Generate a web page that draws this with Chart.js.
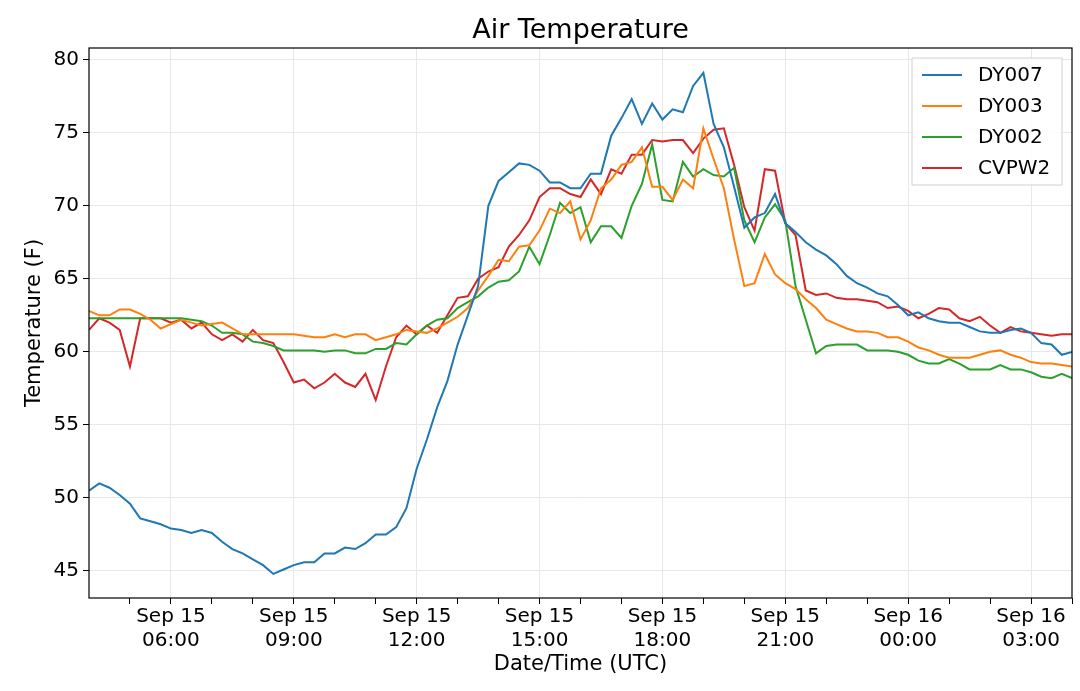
<!DOCTYPE html>
<html>
<head>
<meta charset="utf-8">
<script src="https://cdn.jsdelivr.net/npm/chart.js@4/dist/chart.umd.min.js"></script>
<style>
  html, body { margin: 0; padding: 0; background: #fff; }
</style>
</head>
<body>
<canvas id="airTemp" width="1080" height="691"></canvas>
<script>
// hours since Sep 15 04:00 UTC, one reading every 15 minutes
const startHour = 4
const stepHours = 0.25

const dy007 = [50.5,51,50.7,50.2,49.6,48.6,48.4,48.2,47.9,47.8,47.6,47.8,47.6,47,46.5,46.2,45.8,45.4,44.8,45.1,
  45.4,45.6,45.6,46.2,46.2,46.6,46.5,46.9,47.5,47.5,48,49.3,52,54,56.2,58,60.5,62.5,64.5,70,
  71.7,72.3,72.9,72.8,72.4,71.6,71.6,71.2,71.2,72.2,72.2,74.8,76,77.3,75.6,77,75.9,76.6,76.4,78.2,
  79.1,75.6,74,71.3,68.5,69.2,69.5,70.8,68.8,68.2,67.5,67,66.6,66,65.2,64.7,64.4,64,63.8,63.2,
  62.5,62.7,62.3,62.1,62,62,61.7,61.4,61.3,61.3,61.5,61.6,61.3,60.6,60.5,59.8,60]
const dy003 = [62.8,62.5,62.5,62.9,62.9,62.6,62.2,61.6,61.9,62.2,62,61.8,61.9,62,61.6,61.2,61.2,61.2,61.2,61.2,
  61.2,61.1,61,61,61.2,61,61.2,61.2,60.8,61,61.2,61.5,61.4,61.3,61.6,62,62.4,63,64.2,65.2,
  66.3,66.2,67.2,67.3,68.3,69.8,69.5,70.3,67.7,69,71.2,71.8,72.8,73,74,71.3,71.3,70.4,71.8,71.2,
  75.3,73.2,71.2,67.7,64.5,64.7,66.7,65.3,64.7,64.3,63.6,63,62.2,61.9,61.6,61.4,61.4,61.3,61,61,
  60.7,60.3,60.1,59.8,59.6,59.6,59.6,59.8,60,60.1,59.8,59.6,59.3,59.2,59.2,59.1,59]
const dy002 = [62.3,62.3,62.3,62.3,62.3,62.3,62.3,62.3,62.3,62.3,62.2,62.1,61.8,61.3,61.3,61.2,60.7,60.6,60.4,60.1,
  60.1,60.1,60.1,60,60.1,60.1,59.9,59.9,60.2,60.2,60.6,60.5,61.2,61.8,62.2,62.3,63,63.4,63.8,64.4,
  64.8,64.9,65.5,67.2,66,68,70.2,69.5,69.9,67.5,68.6,68.6,67.8,70,71.5,74.2,70.4,70.3,73,72,
  72.5,72.1,72,72.6,69,67.5,69.2,70.1,69,64.5,62.2,59.9,60.4,60.5,60.5,60.5,60.1,60.1,60.1,60,
  59.8,59.4,59.2,59.2,59.5,59.2,58.8,58.8,58.8,59.1,58.8,58.8,58.6,58.3,58.2,58.5,58.2]
const cvpw2 = [61.5,62.3,62,61.5,59,62.3,62.3,62.3,62,62.2,61.6,62,61.2,60.8,61.2,60.7,61.5,60.8,60.6,59.3,
  57.9,58.1,57.5,57.9,58.5,57.9,57.6,58.5,56.7,59,61,61.8,61.2,61.8,61.3,62.5,63.7,63.8,65,65.5,
  65.8,67.2,68,69,70.6,71.2,71.2,70.8,70.6,71.8,70.8,72.5,72.2,73.5,73.5,74.5,74.4,74.5,74.5,73.6,
  74.6,75.2,75.3,72.8,69.9,68.3,72.5,72.4,68.8,68,64.2,63.9,64,63.7,63.6,63.6,63.5,63.4,63,63.1,
  62.8,62.3,62.6,63,62.9,62.3,62.1,62.4,61.8,61.3,61.7,61.4,61.3,61.2,61.1,61.2,61.2]

const seriesNames = ["DY007", "DY003", "DY002", "CVPW2"]
const seriesColors = ["#1f77b4", "#ff7f0e", "#2ca02c", "#d62728"]
const yTicks = [45, 50, 55, 60, 65, 70, 75, 80]

const toPoints = vals => vals.map((v, i) => ({ x: i * stepHours, y: v }))

const hourLabel = h => {
    const abs = startHour + h
    const day = abs >= 24 ? 16 : 15
    const hh = String(abs % 24).padStart(2, "0")
    return ["Sep " + day, hh + ":00"]
}
const isMajor = h => (startHour + h) % 3 === 0

const frame = {
    id: "frame",
    afterDraw(chart) {
        const { ctx, chartArea: a } = chart
        ctx.save()
        ctx.strokeStyle = "#000"
        ctx.lineWidth = 1.2
        ctx.strokeRect(a.left, a.top, a.right - a.left, a.bottom - a.top)

        ctx.fillStyle = "#000"
        ctx.font = "27px 'DejaVu Sans'"
        ctx.textAlign = "center"
        ctx.textBaseline = "middle"
        ctx.fillText("Air Temperature", (a.left + a.right) / 2, 31)

        // legend box, upper right inside the plot
        const bx = 912, by = 58, bw = 150, bh = 127
        ctx.fillStyle = "rgba(255,255,255,0.85)"
        ctx.strokeStyle = "#d0d0d0"
        ctx.lineWidth = 1
        ctx.beginPath()
        ctx.rect(bx, by, bw, bh)
        ctx.fill()
        ctx.stroke()
        ctx.font = "20px 'DejaVu Sans'"
        ctx.textAlign = "left"
        chart.data.datasets.forEach((ds, i) => {
            const y = by + 17 + i * 31
            ctx.strokeStyle = ds.borderColor
            ctx.lineWidth = 2
            ctx.beginPath()
            ctx.moveTo(bx + 10, y)
            ctx.lineTo(bx + 50, y)
            ctx.stroke()
            ctx.fillStyle = "#000"
            ctx.fillText(ds.label, bx + 66, y + 1)
        })
        ctx.restore()
    }
}

new Chart(document.getElementById("airTemp"), {
    type: "line",
    data: {
        datasets: [dy007, dy003, dy002, cvpw2].map((vals, i) => ({
            label: seriesNames[i],
            data: toPoints(vals),
            borderColor: seriesColors[i],
            backgroundColor: seriesColors[i],
            borderWidth: 2,
            pointRadius: 0,
            tension: 0
        }))
    },
    options: {
        responsive: false,
        animation: false,
        layout: { padding: { top: 48, right: 8, left: 22, bottom: 14 } },
        plugins: { legend: { display: false }, title: { display: false }, tooltip: { enabled: false } },
        scales: {
            x: {
                type: "linear",
                min: 0,
                max: 24,
                afterFit: s => { s.height = 79 },
                afterBuildTicks: s => { s.ticks = Array.from({ length: 24 }, (_, i) => ({ value: i + 1 })) },
                ticks: {
                    autoSkip: false,
                    maxRotation: 0,
                    color: "#000",
                    font: { family: "DejaVu Sans", size: 20 },
                    padding: 1,
                    callback: v => isMajor(v) ? hourLabel(v) : ""
                },
                grid: {
                    color: c => isMajor(c.index + 1) ? "#e8e8e8" : "rgba(255,255,255,0)",
                    tickColor: "#000",
                    tickLength: 6
                },
                border: { display: false },
                title: {
                    display: true,
                    text: "Date/Time (UTC)",
                    color: "#000",
                    font: { family: "DejaVu Sans", size: 21 },
                    padding: { top: 0, bottom: 0 }
                }
            },
            y: {
                min: 43.15,
                max: 80.8,
                afterFit: s => { s.width = 67 },
                afterBuildTicks: s => { s.ticks = yTicks.map(v => ({ value: v })) },
                ticks: {
                    color: "#000",
                    font: { family: "DejaVu Sans", size: 20 },
                    padding: 4
                },
                grid: { color: "#e8e8e8", tickColor: "#000", tickLength: 6 },
                border: { display: false },
                title: {
                    display: true,
                    text: "Temperature (F)",
                    color: "#000",
                    font: { family: "DejaVu Sans", size: 21 },
                    padding: { top: 0, bottom: 2 }
                }
            }
        }
    },
    plugins: [frame]
})
</script>
</body>
</html>
